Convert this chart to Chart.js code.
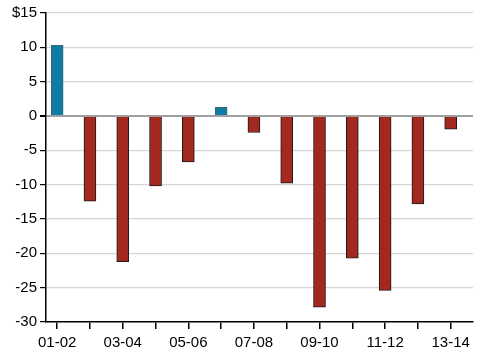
<!DOCTYPE html>
<html>
<head>
<meta charset="utf-8">
<script src="https://cdn.jsdelivr.net/npm/chart.js@4/dist/chart.umd.min.js"></script>
<style>
html,body{margin:0;padding:0;background:#fff;}
#wrap{width:483px;height:358px;}
</style>
</head>
<body>
<div id="wrap"><canvas id="c" width="483" height="358"></canvas></div>
<script>
const categories = ["01-02","02-03","03-04","04-05","05-06","06-07","07-08","08-09","09-10","10-11","11-12","12-13","13-14"];
const values = [10.3, -12.4, -21.2, -10.2, -6.7, 1.25, -2.4, -9.8, -27.85, -20.7, -25.4, -12.8, -1.9];
const yTicks = [15, 10, 5, 0, -5, -10, -15, -20, -25, -30];

const BLUE = '#0f7ca4', RED = '#a3281f';

new Chart(document.getElementById('c'), {
  type: 'bar',
  data: {
    datasets: [{
      data: values.map((v, i) => ({x: i, y: v})),
      backgroundColor: values.map(v => v > 0 ? BLUE : RED),
      borderColor: values.map(v => v > 0 ? '#3d6476' : '#1a1a1a'),
      borderWidth: 1,
      barThickness: 12
    }]
  },
  options: {
    responsive: false,
    animation: false,
    devicePixelRatio: 1,
    layout: {padding: {left: 0, right: 10, top: 13, bottom: 0}},
    plugins: {legend: {display: false}, tooltip: {enabled: false}},
    scales: {
      x: {
        type: 'linear',
        offset: false,
        min: -0.34,
        max: 12.68,
        afterFit: s => { s.height = 36; },
        border: {color: '#000', width: 1.5},
        grid: {offset: false, drawOnChartArea: false, tickColor: '#000', tickLength: 7, lineWidth: 1.5},
        ticks: {
          stepSize: 1,
          includeBounds: false,
          autoSkip: false,
          maxRotation: 0,
          padding: 5,
          color: '#000',
          font: {family: 'Liberation Sans', size: 15},
          callback: v => (Number.isInteger(v) && v % 2 === 0 && categories[v]) ? categories[v] : ''
        }
      },
      y: {
        min: -30,
        max: 15,
        afterFit: s => { s.width = 46; },
        afterBuildTicks: s => { s.ticks = yTicks.map(v => ({value: v})); },
        border: {color: '#000', width: 1.5},
        grid: {
          color: c => c.tick && c.tick.value === 0 ? '#a0a0a0' : '#d6d6d6',
          lineWidth: c => c.tick && c.tick.value === 0 ? 2 : 1.2,
          tickColor: '#000',
          tickLength: 6
        },
        ticks: {
          padding: 3,
          color: '#000',
          font: {family: 'Liberation Sans', size: 15},
          callback: v => v === 15 ? '$15' : String(v)
        }
      }
    }
  }
});
</script>
</body>
</html>
